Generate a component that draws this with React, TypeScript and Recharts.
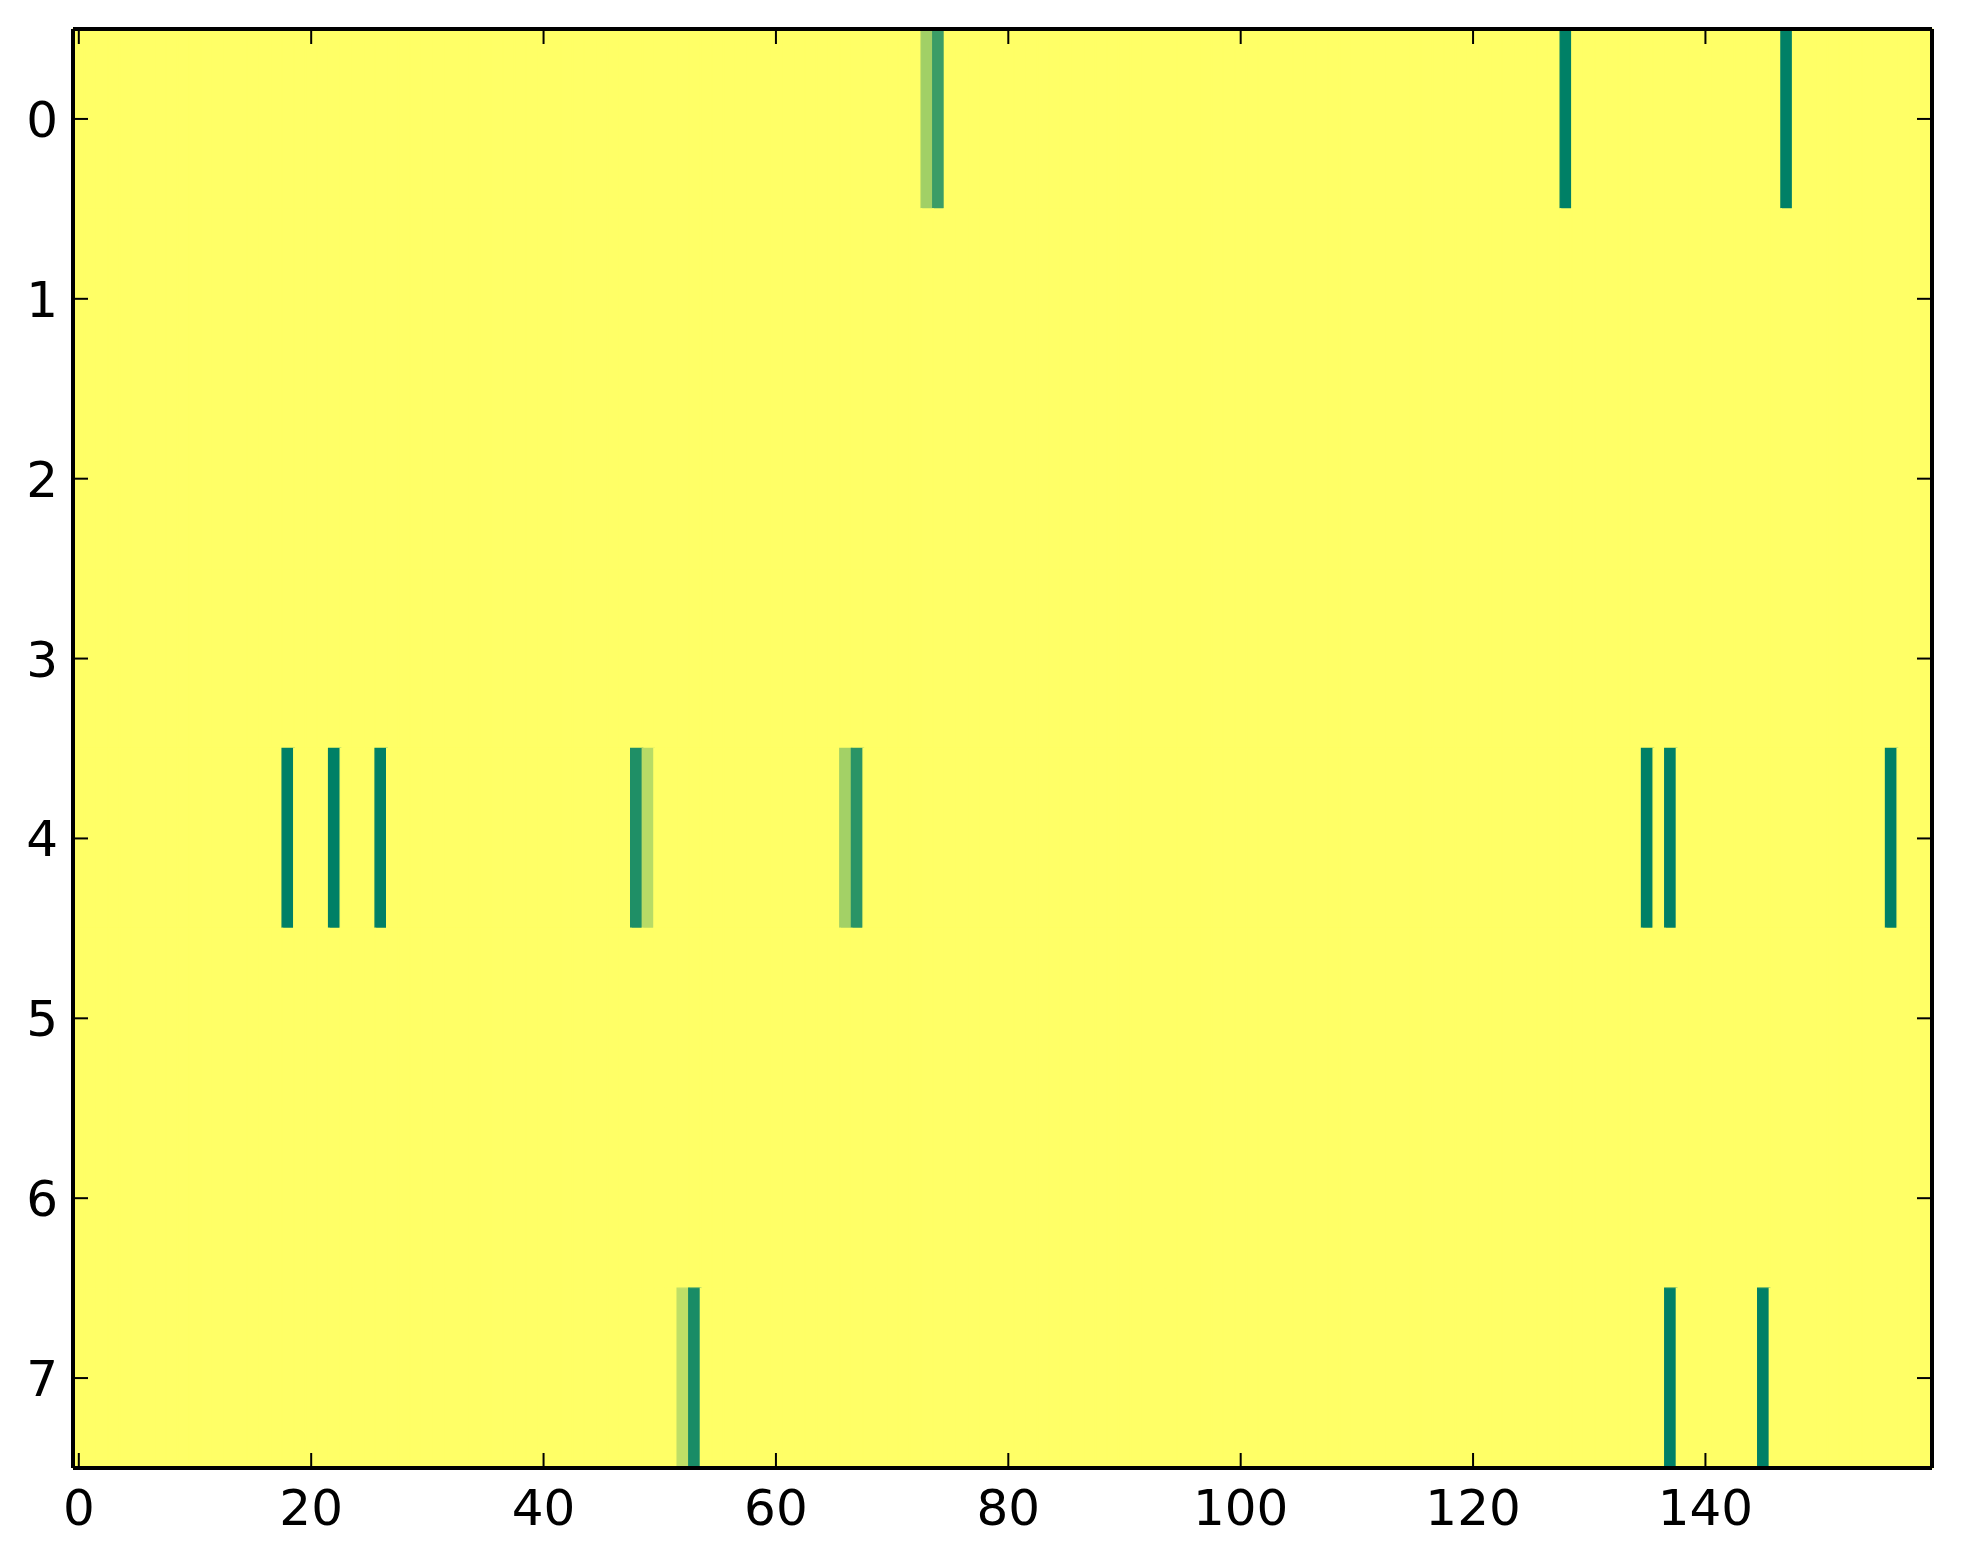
import React from 'react';
import { BarChart, Bar, Cell, XAxis, YAxis } from 'recharts';

document.body.style.margin = '0';

// image is 8 rows x 160 columns, almost all zero
const rowIds = [0, 1, 2, 3, 4, 5, 6, 7];
const columnIds = Array.from({ length: 160 }, (_, i) => i);

const row0Cols = [73, 74, 128, 147];
const row0Vals = [0.37, 0.77, 1, 1];
const row4Cols = [18, 22, 26, 48, 49, 66, 67, 135, 137, 156];
const row4Vals = [1, 1, 1, 0.88, 0.28, 0.36, 0.84, 1, 1, 1];
const row7Cols = [52, 53, 137, 145];
const row7Vals = [0.25, 0.9, 1, 1];

const xTicks = [0, 20, 40, 60, 80, 100, 120, 140];
const yTicks = [0.5, 1.5, 2.5, 3.5, 4.5, 5.5, 6.5, 7.5];

const hotCols: Record<number, number[]> = { 0: row0Cols, 4: row4Cols, 7: row7Cols };
const hotVals: Record<number, number[]> = { 0: row0Vals, 4: row4Vals, 7: row7Vals };

const cellValue = (row: number, col: number) => {
  const cols = hotCols[row];
  if (!cols) return 0;
  const k = cols.indexOf(col);
  return k < 0 ? 0 : hotVals[row][k];
};

// matplotlib summer_r
const summerR = (v: number) => {
  const r = Math.round(255 * (1 - v));
  const g = Math.round(255 * (1 - v / 2));
  return `rgb(${r},${g},102)`;
};

const data = columnIds.map((c) => {
  const o: Record<string, number> = { col: c };
  rowIds.forEach((r) => (o[`r${r}`] = 1));
  return o;
});

const FONT = 'DejaVu Sans';

const BottomTick = ({ x, y, payload }: any) => (
  <g>
    <line x1={x} x2={x} y1={y} y2={y - 15} stroke="#000" strokeWidth={2} />
    <text x={x} y={y + 57} textAnchor="middle" fontFamily={FONT} fontSize={50} fill="#000">
      {payload.value}
    </text>
  </g>
);

const TopTick = ({ x, y }: any) => (
  <line x1={x} x2={x} y1={y} y2={y + 15} stroke="#000" strokeWidth={2} />
);

const LeftTick = ({ x, y, payload }: any) => (
  <g>
    <line x1={x} x2={x + 15} y1={y} y2={y} stroke="#000" strokeWidth={2} />
    <text x={x - 15} y={y + 18} textAnchor="end" fontFamily={FONT} fontSize={50} fill="#000">
      {payload.value - 0.5}
    </text>
  </g>
);

const RightTick = ({ x, y }: any) => (
  <line x1={x} x2={x - 15} y1={y} y2={y} stroke="#000" strokeWidth={2} />
);

const spine = { stroke: '#000', strokeWidth: 4 };

export default function App() {
  return (
    <div style={{ width: 1963, height: 1564, background: '#fff' }}>
      <BarChart
        width={1963}
        height={1564}
        data={data}
        margin={{ top: 28, right: 30, bottom: 36, left: 13 }}
        barCategoryGap={0}
        barGap={0}
      >
        {rowIds.map((r) => (
          <Bar key={r} dataKey={`r${r}`} stackId="img" isAnimationActive={false}>
            {columnIds.map((c) => {
              const col = summerR(cellValue(r, c));
              return <Cell key={c} fill={col} stroke={col} strokeWidth={1.4} />;
            })}
          </Bar>
        ))}
        <XAxis
          dataKey="col"
          ticks={xTicks}
          interval={0}
          height={60}
          tickSize={0}
          tickMargin={0}
          tickLine={false}
          axisLine={spine}
          tick={<BottomTick />}
        />
        <XAxis
          xAxisId="top"
          orientation="top"
          dataKey="col"
          ticks={xTicks}
          interval={0}
          height={1}
          tickSize={0}
          tickMargin={0}
          tickLine={false}
          axisLine={spine}
          tick={<TopTick />}
        />
        <YAxis
          type="number"
          domain={[0, 8]}
          reversed
          ticks={yTicks}
          interval={0}
          width={60}
          tickSize={0}
          tickMargin={0}
          tickLine={false}
          axisLine={spine}
          tick={<LeftTick />}
        />
        <YAxis
          yAxisId="right"
          orientation="right"
          type="number"
          domain={[0, 8]}
          reversed
          allowDataOverflow
          ticks={yTicks}
          interval={0}
          width={1}
          tickSize={0}
          tickMargin={0}
          tickLine={false}
          axisLine={spine}
          tick={<RightTick />}
        />
      </BarChart>
    </div>
  );
}
